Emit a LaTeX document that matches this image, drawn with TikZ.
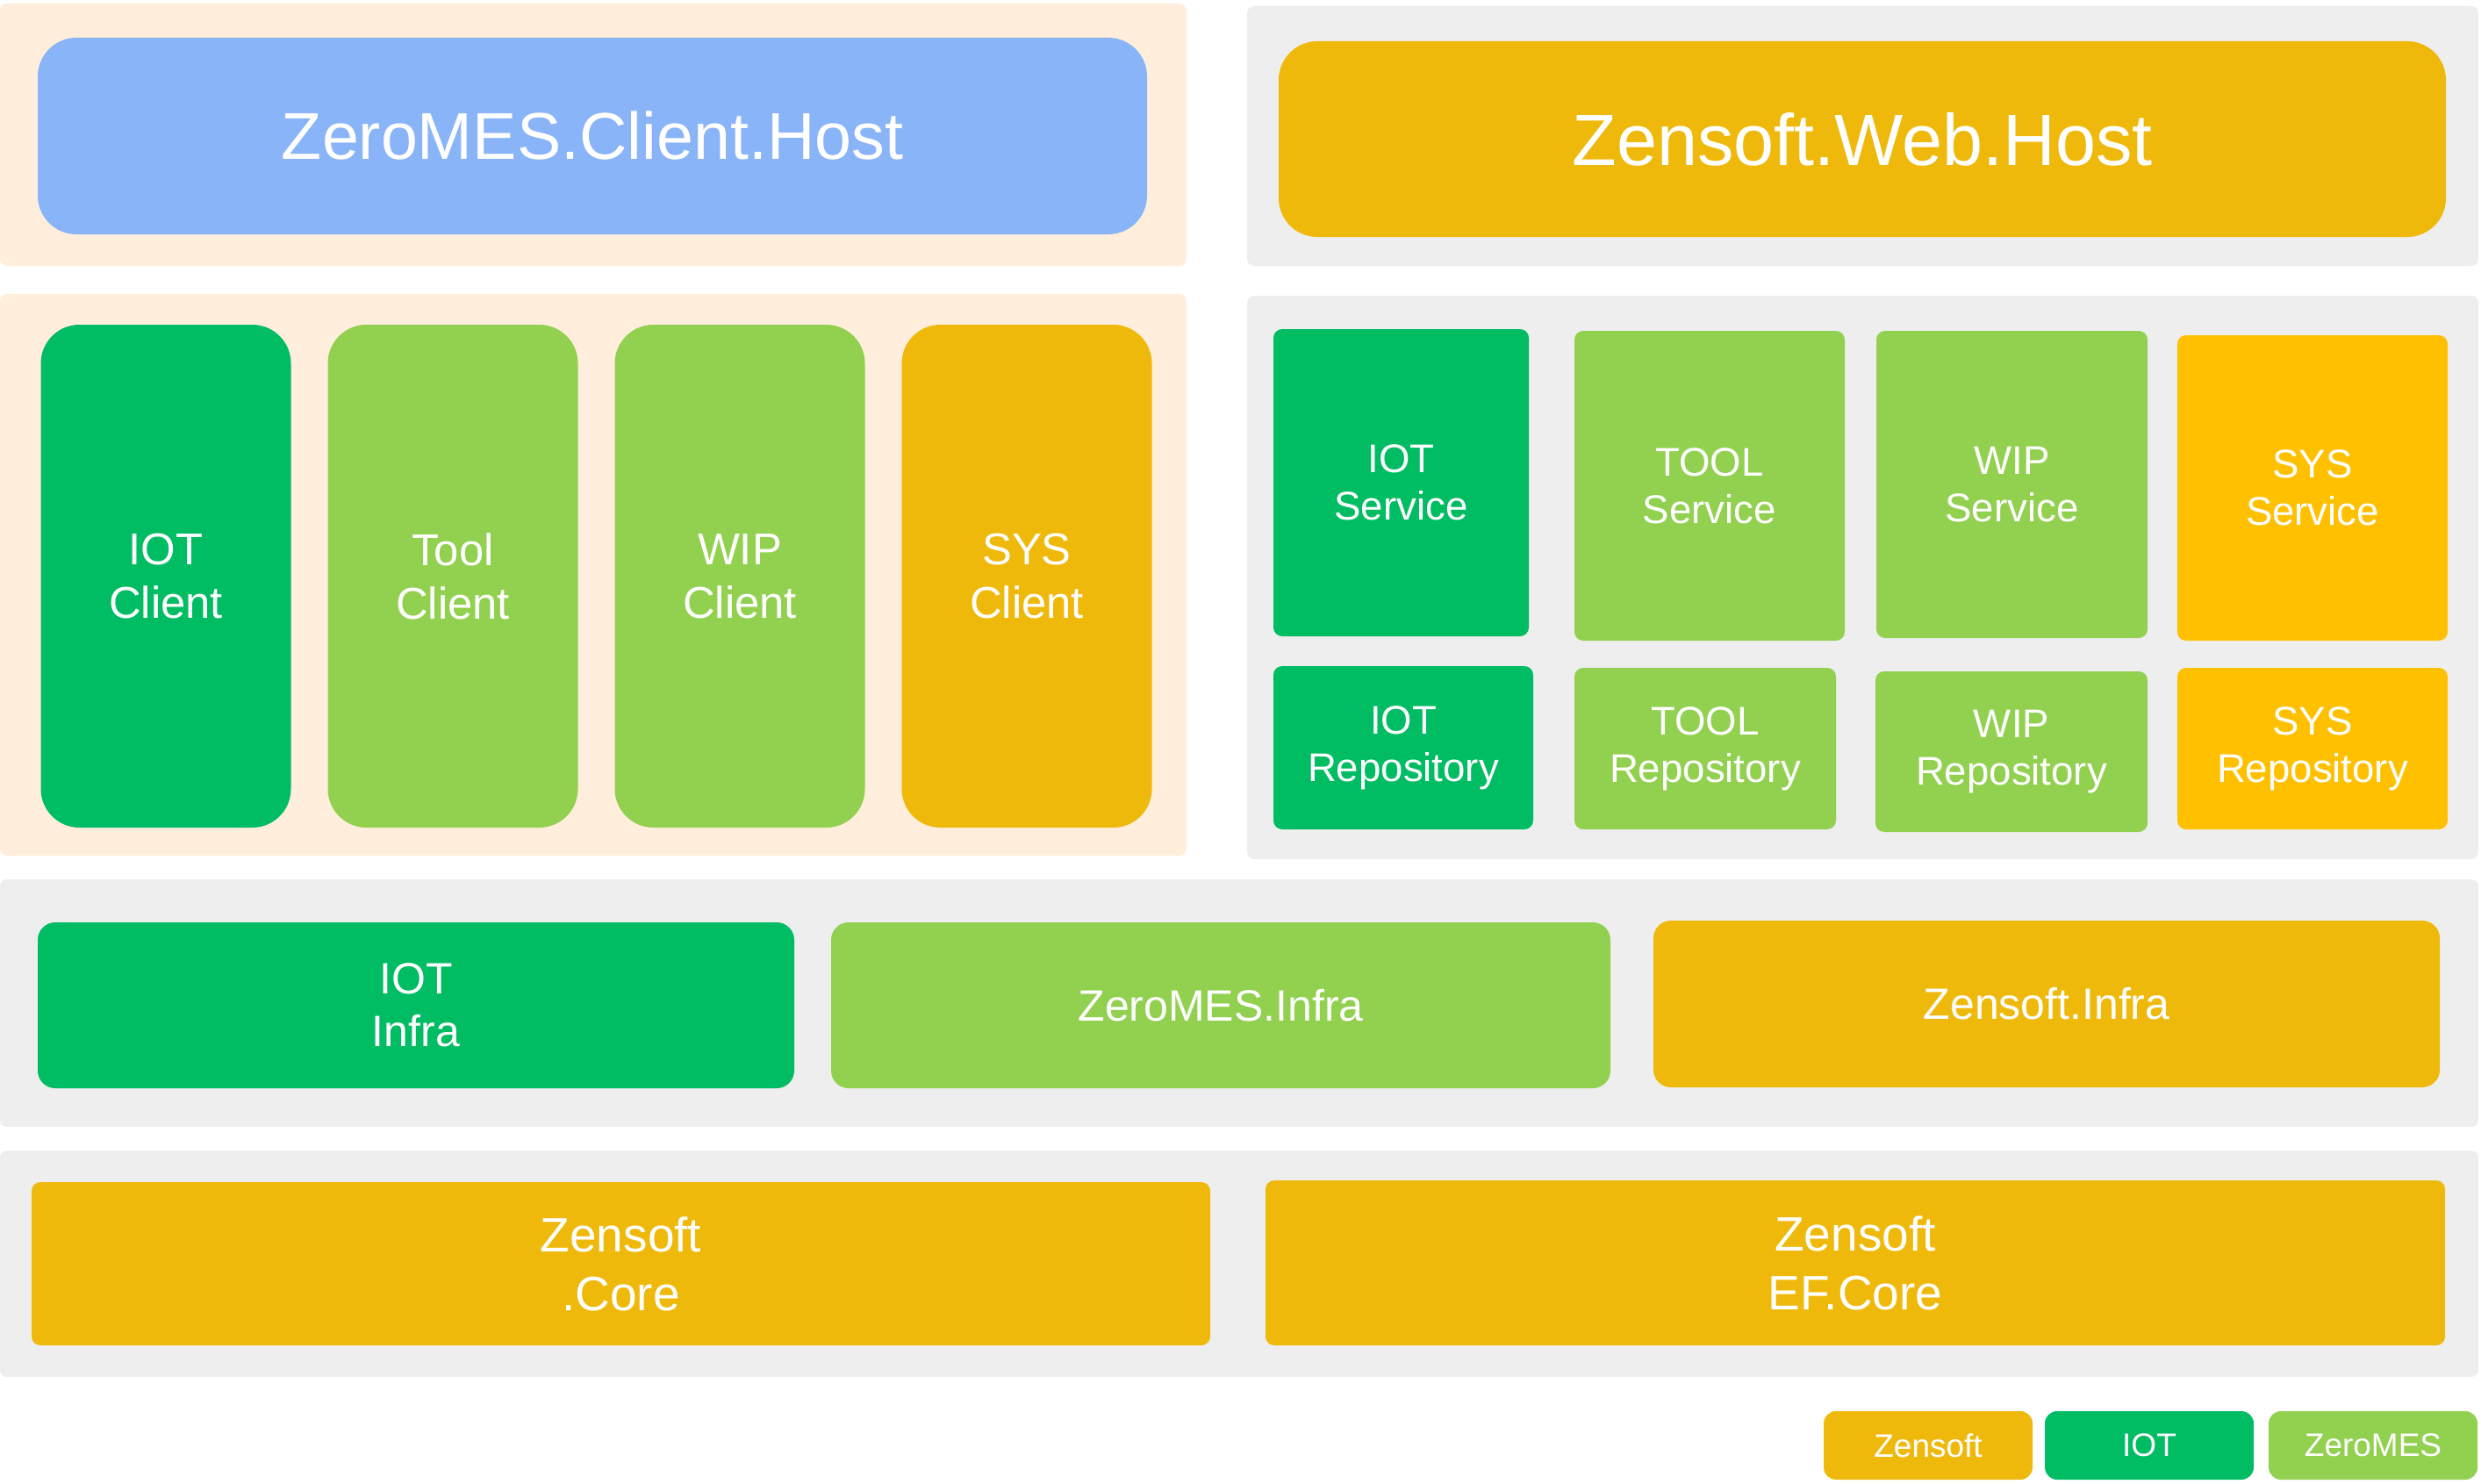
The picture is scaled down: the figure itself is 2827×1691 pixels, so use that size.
\documentclass[tikz,border=0pt]{standalone}
\usepackage{fontspec}
\setmainfont{Liberation Sans}
\definecolor{peach}{HTML}{FFEEDB}
\definecolor{panelgray}{HTML}{EEEEEE}
\definecolor{hostblue}{HTML}{8AB4F8}
\definecolor{iotgreen}{HTML}{00BC62}
\definecolor{mesgreen}{HTML}{92D050}
\definecolor{zensoft}{HTML}{EFB90C}
\definecolor{sysyellow}{HTML}{FFC000}
\newcommand{\clienthostfont}{\fontsize{37.7}{45}\selectfont}
\newcommand{\webhostfont}{\fontsize{41.4}{49}\selectfont}
\newcommand{\clientfont}{\fontsize{25.4}{30.5}\selectfont}
\newcommand{\servicefont}{\fontsize{22.8}{27}\selectfont}
\newcommand{\infrafont}{\fontsize{25}{30}\selectfont}
\newcommand{\corefont}{\fontsize{27.5}{33.5}\selectfont}
\newcommand{\legendfont}{\fontsize{18.5}{22}\selectfont}

\begin{document}
\begin{tikzpicture}
	[x=0.5pt,y=-0.5pt,every node/.style={rectangle,inner sep=0pt,outer sep=0pt,text=white,align=center},
	panel/.style={fill=#1,rounded corners=4pt},
	blk/.style={fill=#1}]
	\useasboundingbox (0,0) rectangle (2827,1691);
	\node[panel=peach,minimum width=676pt,minimum height=149.5pt] (hostP) at (676,153.5) {};
	\node[panel=panelgray,minimum width=701.5pt,minimum height=148pt] (webP) at (2122.5,155) {};
	\node[panel=peach,minimum width=676pt,minimum height=320pt] (clientP) at (676,655) {};
	\node[panel=panelgray,minimum width=701.5pt,minimum height=321pt] (serviceP) at (2122.5,658) {};
	\node[panel=panelgray,minimum width=1412pt,minimum height=141pt] (infraP) at (1412,1143) {};
	\node[panel=panelgray,minimum width=1412pt,minimum height=129pt] (coreP) at (1412,1440) {};
	
	\node[blk=hostblue,rounded corners=22pt,minimum width=632pt,minimum height=112pt,font=\clienthostfont] (clientHost) at (675,155) {ZeroMES.Client.Host};
	\node[blk=zensoft,rounded corners=22pt,minimum width=665pt,minimum height=111.5pt,font=\webhostfont] (webHost) at (2122,158.5) {Zensoft.Web.Host};
	
	\foreach \name/\x/\lbl/\col in {iotC/189/IOT/iotgreen,toolC/516/Tool/mesgreen,wipC/843/WIP/mesgreen,sysC/1170/SYS/zensoft}
	\node[blk=\col,rounded corners=22pt,minimum width=142.5pt,minimum height=286.5pt,font=\clientfont] (\name) at (\x,656.5) {\lbl\\Client};
	
	\node[blk=iotgreen,rounded corners=5pt,minimum width=145.5pt,minimum height=175pt,font=\servicefont] (iotS) at (1596.5,550) {IOT\\Service};
	\node[blk=mesgreen,rounded corners=5pt,minimum width=154pt,minimum height=176.5pt,font=\servicefont] (toolS) at (1948,553.5) {TOOL\\Service};
	\node[blk=mesgreen,rounded corners=5pt,minimum width=154.5pt,minimum height=175pt,font=\servicefont] (wipS) at (2292.5,552) {WIP\\Service};
	\node[blk=sysyellow,rounded corners=5pt,minimum width=154pt,minimum height=174pt,font=\servicefont] (sysS) at (2635,556) {SYS\\Service};
	
	\node[blk=iotgreen,rounded corners=5pt,minimum width=148pt,minimum height=93pt,font=\servicefont] (iotR) at (1599,852) {IOT\\Repository};
	\node[blk=mesgreen,rounded corners=5pt,minimum width=149pt,minimum height=92pt,font=\servicefont] (toolR) at (1943,853) {TOOL\\Repository};
	\node[blk=mesgreen,rounded corners=5pt,minimum width=155pt,minimum height=91.5pt,font=\servicefont] (wipR) at (2292,856.5) {WIP\\Repository};
	\node[blk=sysyellow,rounded corners=5pt,minimum width=154pt,minimum height=92pt,font=\servicefont] (sysR) at (2635,853) {SYS\\Repository};
	
	\node[blk=iotgreen,rounded corners=10pt,minimum width=431pt,minimum height=94.5pt,font=\infrafont] (iotI) at (474,1145.5) {IOT\\Infra};
	\node[blk=mesgreen,rounded corners=10pt,minimum width=444pt,minimum height=94.5pt,font=\infrafont] (mesI) at (1391,1145.5) {ZeroMES.Infra};
	\node[blk=zensoft,rounded corners=10pt,minimum width=448pt,minimum height=95pt,font=\infrafont] (zenI) at (2332,1144) {Zensoft.Infra};
	
	\node[blk=zensoft,rounded corners=5pt,minimum width=671.5pt,minimum height=93pt,font=\corefont] (core) at (707.5,1440) {Zensoft\\.Core};
	\node[blk=zensoft,rounded corners=5pt,minimum width=672pt,minimum height=94pt,font=\corefont] (efCore) at (2114,1439) {Zensoft\\EF.Core};
	
	\foreach \name/\x/\lbl/\col in {zenL/2197/Zensoft/zensoft,iotL/2449/IOT/iotgreen,mesL/2704/ZeroMES/mesgreen}
	\node[blk=\col,rounded corners=7pt,minimum width=119pt,minimum height=39pt,font=\legendfont] (\name) at (\x,1647) {\lbl};
\end{tikzpicture}
\end{document}
